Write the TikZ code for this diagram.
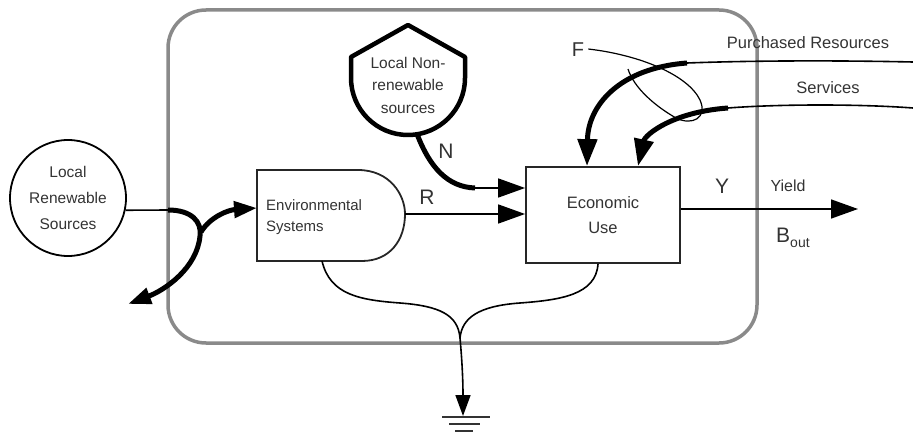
\documentclass[tikz,border=0pt]{standalone}
\usepackage{fontspec}
\setmainfont{Liberation Sans}
\usetikzlibrary{arrows.meta}
\definecolor{framegray}{HTML}{8A8A8A}
\definecolor{txt}{HTML}{333333}
\begin{document}
\begin{tikzpicture}[x=1pt,y=-1pt,
  frame/.style={draw=framegray, line width=3.5pt, rounded corners=38pt},
  boxline/.style={draw=black!85, line width=1.8pt},
  flowthin/.style={draw=black, line width=1.6pt},
  flowthick/.style={draw=black, line width=5pt},
  lasso/.style={draw=black, line width=1.2pt},
  tip/.style={-{Triangle[length=27pt,width=19pt]}},
  midtip/.style={-{Triangle[length=23pt,width=16pt]}},
  smalltip/.style={-{Triangle[length=21pt,width=15pt]}},
  lbl/.style={text=txt, inner sep=0pt, font=\fontsize{16}{25}\selectfont},
  biglbl/.style={text=txt, inner sep=0pt, font=\fontsize{21}{24}\selectfont},
  gndline/.style={draw=black!80, line width=1.5pt}
]
\useasboundingbox (0,0) rectangle (913,433);

% system frame
\draw[frame] (168,10) rectangle (757,343);

% Local renewable sources
\node[draw, circle, line width=1.8pt, minimum size=116pt, inner sep=0pt, align=center,
      text=txt, font=\fontsize{15.5}{26}\selectfont] (lrs) at (68,198) {Local\\Renewable\\Sources};

% Environmental systems (producer shape)
\draw[boxline] (257,170) -- (358,170) .. controls (390,170) and (405,195) .. (405,214)
  .. controls (405,240) and (390,261) .. (362,261) -- (257,261) -- cycle;
\node[lbl, align=left, anchor=west, font=\fontsize{15}{21}\selectfont] (envtxt) at (266,217) {Environmental\\Systems};
\coordinate (envL) at (257,208);
\coordinate (envR) at (405,214);
\coordinate (envB) at (322,261);

% Local non-renewable sources (tank)
\draw[draw=black, line width=4.5pt, line join=round] (351,78) arc[start angle=180, end angle=0, radius=57]
  -- (465,57) -- (408,25) -- (351,57) -- cycle;
\node[lbl, align=center, font=\fontsize{15.5}{22.5}\selectfont] (nonren) at (408,85) {Local Non-\\renewable\\sources};
\coordinate (nrB) at (417,134);
\coordinate (nrK) at (475,188);

% Economic use
\node[boxline, minimum width=154pt, minimum height=96pt, inner sep=0pt, align=center,
      text=txt, font=\fontsize{16.5}{25}\selectfont] (eco) at (603,215) {Economic\\Use};

% renewable inflow with split
\coordinate (lrsK) at (168,210);
\coordinate (split) at (200,236);
\coordinate (leak) at (128,304);
\draw[flowthin] (lrs.-12) -- (lrsK);
\draw[flowthick, midtip] (lrsK) .. controls (192,210) and (202,222) .. (split)
  .. controls (197,268) and (165,290) .. (leak);
\draw[flowthick, midtip] (201,232) .. controls (210,217) and (228,210) .. (envL);

% R
\draw[flowthin, tip] (envR) -- (eco.west |- envR);
\node[biglbl] (rlbl) at (427,197) {R};

% N
\draw[flowthick] (nrB) .. controls (430,168) and (448,187) .. (nrK);
\draw[flowthin, tip] (nrK) -- (eco.west |- nrK);
\node[biglbl] (nlbl) at (446,151) {N};

% Purchased resources
\coordinate (prE) at (913,62);
\coordinate (prK) at (687,63);
\draw[flowthin] (prE) .. controls (820,60) and (740,61) .. (prK);
\draw[flowthick, tip] (prK) .. controls (620,68) and (588,105) .. (eco.north -| 587,0);
\node[lbl, font=\fontsize{16.5}{20}\selectfont] (prlbl) at (808,43) {Purchased Resources};

% Services
\coordinate (svE) at (913,108);
\coordinate (svK) at (728,108);
\draw[flowthin] (svE) .. controls (860,104) and (780,104) .. (svK);
\draw[flowthick, tip] (svK) .. controls (672,112) and (645,135) .. (eco.north -| 638,0);
\node[lbl, font=\fontsize{16.5}{20}\selectfont] (svlbl) at (828,88) {Services};

% F lasso
\node[biglbl, font=\fontsize{20}{24}\selectfont] (flbl) at (578,50) {F};
\draw[lasso] (flbl.east) ++(4,-1) .. controls (640,55) and (688,75) .. (700,100)
  .. controls (708,118) and (692,126) .. (676,118)
  .. controls (655,106) and (634,88) .. (628,69);

% Yield
\coordinate (yE) at (858,209);
\draw[flowthin, tip] (eco.east |- yE) -- (yE);
\node[biglbl] (ylbl) at (722,186) {Y};
\node[lbl] (yieldlbl) at (788,186) {Yield};
\node[text=txt, inner sep=0pt, font=\fontsize{21}{24}\selectfont, anchor=west] (bout) at (776,238)
  {B\raisebox{-5pt}{\fontsize{14}{16}\selectfont out}};

% heat sink
\coordinate (merge) at (460,338);
\coordinate (gnd) at (463,416);
\draw[flowthin] (envB) .. controls (330,295) and (360,300) .. (400,303)
  .. controls (440,306) and (458,315) .. (merge);
\draw[flowthin] (eco.south -| 598,0) .. controls (596,295) and (560,300) .. (520,303)
  .. controls (478,306) and (462,318) .. (merge);
\draw[flowthin, smalltip] (merge) .. controls (462,360) and (463,380) .. (gnd);
\draw[gndline] (442,417) -- (490,417);
\draw[gndline] (449,424) -- (480,424);
\draw[gndline] (455,431) -- (473,431);
\end{tikzpicture}
\end{document}
